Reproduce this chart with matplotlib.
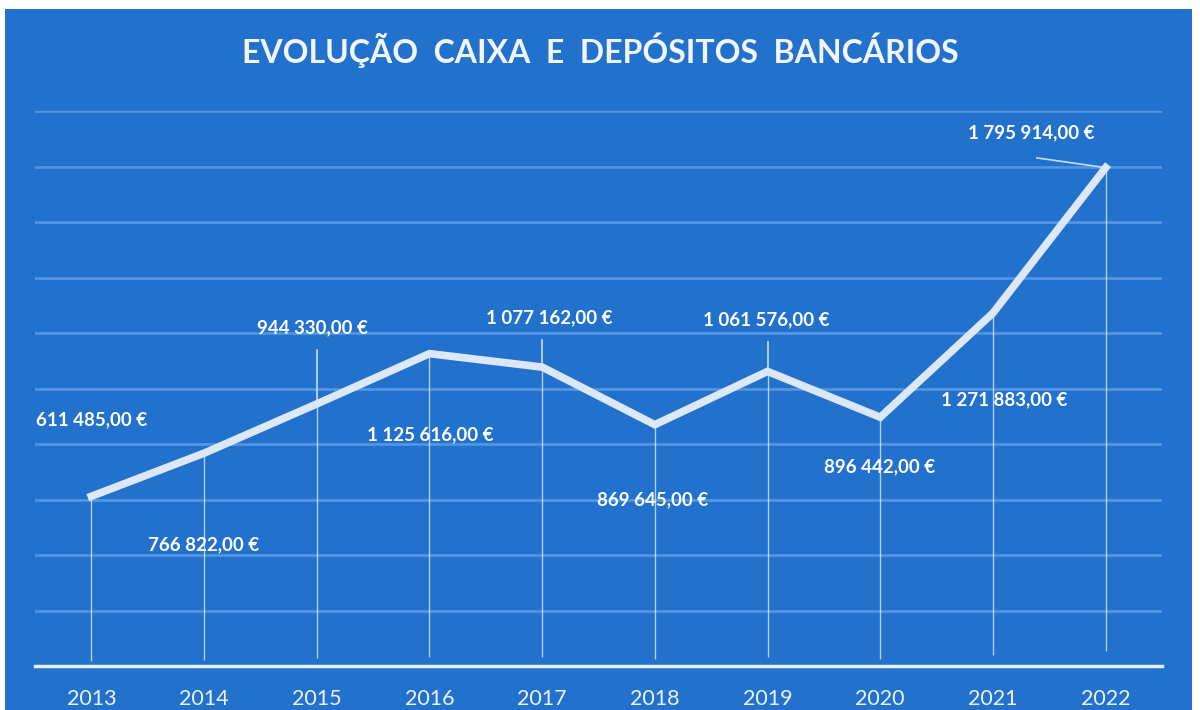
import matplotlib
matplotlib.use("Agg")
import matplotlib.pyplot as plt
from matplotlib.patches import Rectangle

years = ["2013", "2014", "2015", "2016", "2017", "2018", "2019", "2020", "2021", "2022"]
values = [611485, 766822, 944330, 1125616, 1077162, 869645, 1061576, 896442, 1271883, 1795914]
labels = ["611 485,00 €", "766 822,00 €", "944 330,00 €", "1 125 616,00 €", "1 077 162,00 €",
          "869 645,00 €", "1 061 576,00 €", "896 442,00 €", "1 271 883,00 €", "1 795 914,00 €"]
title = "EVOLUÇÃO  CAIXA  E  DEPÓSITOS  BANCÁRIOS"

# label placement (data coords) and whether a leader line is drawn
label_pos = [(0.0, 886000), (1.0, 436000), (1.96, 1218000), (3.01, 832000), (4.06, 1254000),
             (4.98, 598000), (5.99, 1247000), (6.99, 717000), (8.1, 959000), (8.34, 1921000)]
leader = [False, False, True, False, True, False, True, False, False, True]

BLUE = "#2171cd"
GRID = "#5296e0"
LINE = "#dce8f7"
FONT = "Lato"

fig = plt.figure(figsize=(12, 7.1), dpi=100, facecolor="white")
fig.patches.append(Rectangle((5/1200, 0), 1187/1200, 701/710, transform=fig.transFigure,
                             facecolor=BLUE, edgecolor="none", zorder=-10))

ax = fig.add_axes([35/1200, 44/710, 1127/1200, 555/710])
ax.set_zorder(5)
ax.set_facecolor("none")
x = list(range(len(years)))
ax.set_xlim(-0.5, len(years) - 0.5)
ax.set_ylim(0, 2000000)
ax.set_yticks(range(0, 2000001, 200000))
ax.yaxis.grid(True, color=GRID, lw=2)
ax.tick_params(axis="y", left=False, labelleft=False)
for s in ["top", "right", "left"]:
    ax.spines[s].set_visible(False)
ax.spines["bottom"].set_color("#e6eefa")
ax.spines["bottom"].set_linewidth(2.5)
ax.set_xticks(x)
ax.set_xticklabels(years, fontsize=15.5, color="#eef3fb", family=FONT)
ax.tick_params(axis="x", bottom=False, pad=13)

ax.vlines(x, [v * 0.03 for v in values], values, color="#e8f0fb", lw=1, alpha=0.75, zorder=2)
ax.plot(x, values, color=LINE, lw=5.5, solid_joinstyle="miter", zorder=3)

for i, (v, lab, (lx, ly), ld) in enumerate(zip(values, labels, label_pos, leader)):
    ax.text(lx, ly, lab, ha="center", va="center", fontsize=13.5, color="white",
            family=FONT, fontweight="bold", zorder=5)
    if ld:
        if i == len(values) - 1:
            ax.plot([lx + 0.05, i], [ly - 90000, v], color="#c9dcf3", lw=1.2, zorder=2)
        else:
            ax.plot([i, i], [ly - 80000, v], color="#c9dcf3", lw=1.2, zorder=2)

fig.text(0.5, 1 - 50/710, title, ha="center", va="center", fontsize=23, color="#f2f6fc",
         family=FONT, fontweight="bold")

fig.savefig("out.png", dpi=100, facecolor="white")
